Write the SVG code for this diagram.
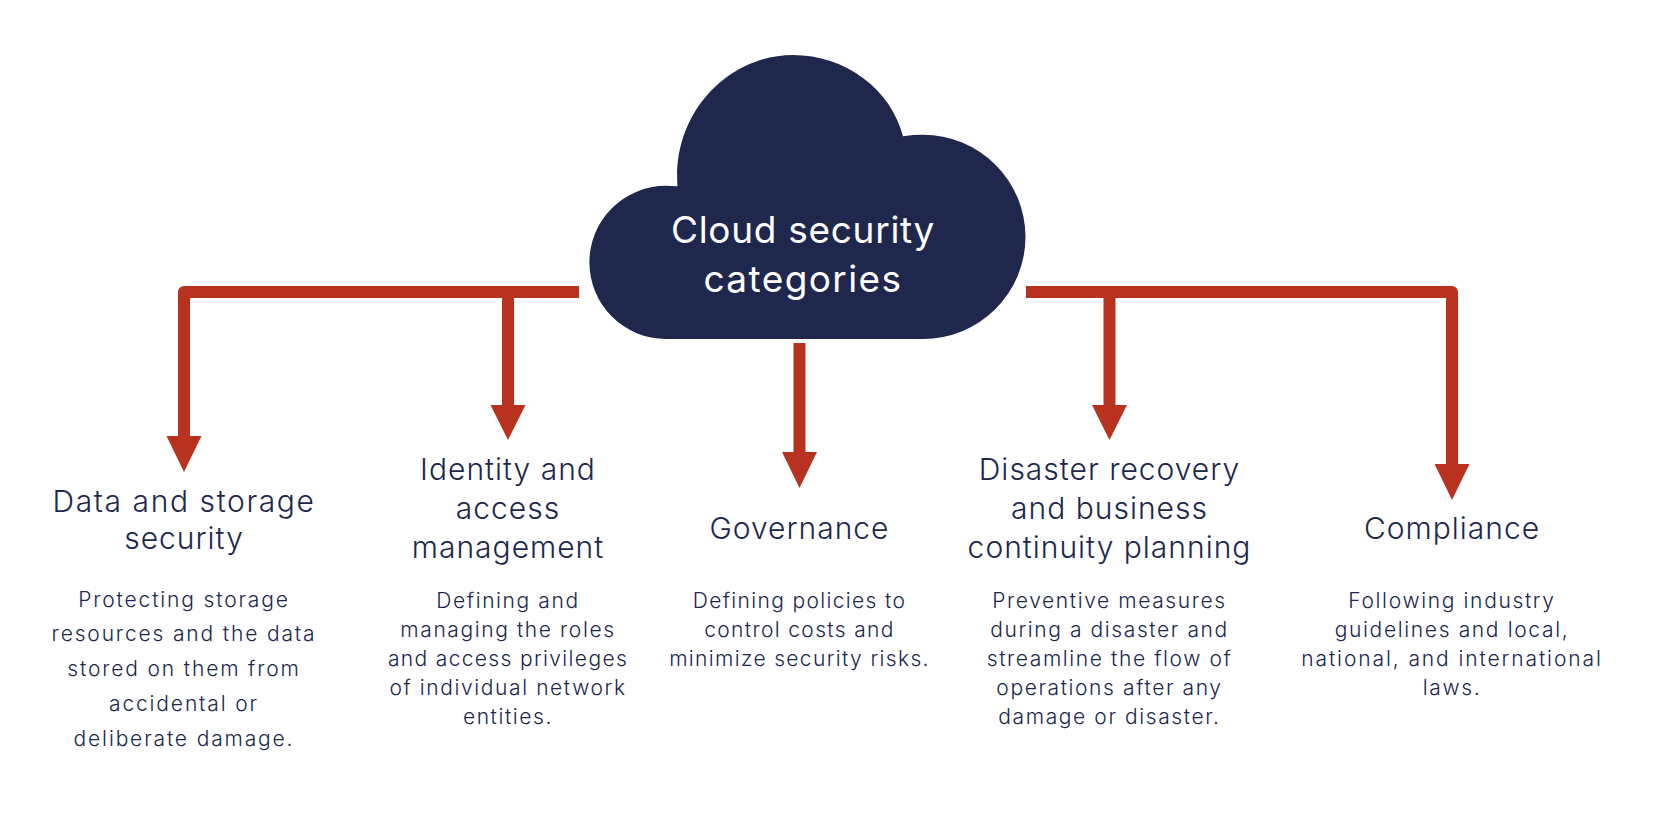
<svg xmlns="http://www.w3.org/2000/svg" width="1661" height="820" viewBox="0 0 1661 820">
<style>
text{font-family:"Inter","Open Sans",sans-serif;text-anchor:middle;fill:#20274d}
.t{font-size:30px;font-weight:300;letter-spacing:1px}
.b{font-size:21px;letter-spacing:1.35px;font-weight:300}
.c{font-size:37px;fill:#fff;font-weight:400;letter-spacing:.7px}
#data-storage .b{letter-spacing:1.85px}
#identity-access .b,#disaster-recovery .b{letter-spacing:1.6px}
#compliance .b{letter-spacing:1.65px}
.w{fill:none;stroke:#b9311f;stroke-width:12;stroke-linejoin:round}
.h{fill:#b9311f}
</style>
<rect width="1661" height="820" fill="#fff"/>
<g id="connectors">
<path class="w" d="M579 292H184V440"/>
<path class="w" d="M508 292V408"/>
<path class="w" d="M799.500 343V456"/>
<path class="w" d="M1109.500 292V408"/>
<path class="w" d="M1026 292H1452V468"/>
<polygon class="h" points="166.500,436 201.500,436 184,472"/>
<polygon class="h" points="490.500,405 525.500,405 508,440"/>
<polygon class="h" points="782,452 817,452 799.500,488"/>
<polygon class="h" points="1092,405 1127,405 1109.500,440"/>
<polygon class="h" points="1434.500,464 1469.500,464 1452,500"/>
</g>
<g id="cloud">
<path fill="#20274d" d="M666 339A76.500 76.500 0 0 1 666 185.800Q672 185.800 677.500 186.300C672 112 729 55 793 55C845 55 891 89 903 136.200Q913 134.800 923 134.800A102.500 102.100 0 0 1 923 339Z"/>
<text class="c" x="803" y="243">Cloud security</text>
<text class="c" x="803" y="292" style="letter-spacing:1.4px">categories</text>
</g>
<g id="data-storage">
<text class="t" x="184" y="511.500" style="letter-spacing:1.6px">Data and storage</text>
<text class="t" x="184" y="549">security</text>
<text class="b" x="184" y="606.500">Protecting storage</text>
<text class="b" x="184" y="641">resources and the data</text>
<text class="b" x="184" y="676">stored on them from</text>
<text class="b" x="184" y="711">accidental or</text>
<text class="b" x="184" y="746">deliberate damage.</text>
</g>
<g id="identity-access">
<text class="t" x="508" y="480">Identity and</text>
<text class="t" x="508" y="519">access</text>
<text class="t" x="508" y="558">management</text>
<text class="b" x="508" y="608">Defining and</text>
<text class="b" x="508" y="637">managing the roles</text>
<text class="b" x="508" y="666" style="letter-spacing:1.35px">and access privileges</text>
<text class="b" x="508" y="695">of individual network</text>
<text class="b" x="508" y="724">entities.</text>
</g>
<g id="governance">
<text class="t" x="799.500" y="539">Governance</text>
<text class="b" x="799.500" y="608">Defining policies to</text>
<text class="b" x="799.500" y="637">control costs and</text>
<text class="b" x="799.500" y="666">minimize security risks.</text>
</g>
<g id="disaster-recovery">
<text class="t" x="1109.500" y="480">Disaster recovery</text>
<text class="t" x="1109.500" y="519">and business</text>
<text class="t" x="1109.500" y="558">continuity planning</text>
<text class="b" x="1109.500" y="608">Preventive measures</text>
<text class="b" x="1109.500" y="637">during a disaster and</text>
<text class="b" x="1109.500" y="666">streamline the flow of</text>
<text class="b" x="1109.500" y="695">operations after any</text>
<text class="b" x="1109.500" y="724">damage or disaster.</text>
</g>
<g id="compliance">
<text class="t" x="1452" y="539">Compliance</text>
<text class="b" x="1452" y="608">Following industry</text>
<text class="b" x="1452" y="637">guidelines and local,</text>
<text class="b" x="1452" y="666" style="letter-spacing:1.9px">national, and international</text>
<text class="b" x="1452" y="695">laws.</text>
</g>
</svg>
